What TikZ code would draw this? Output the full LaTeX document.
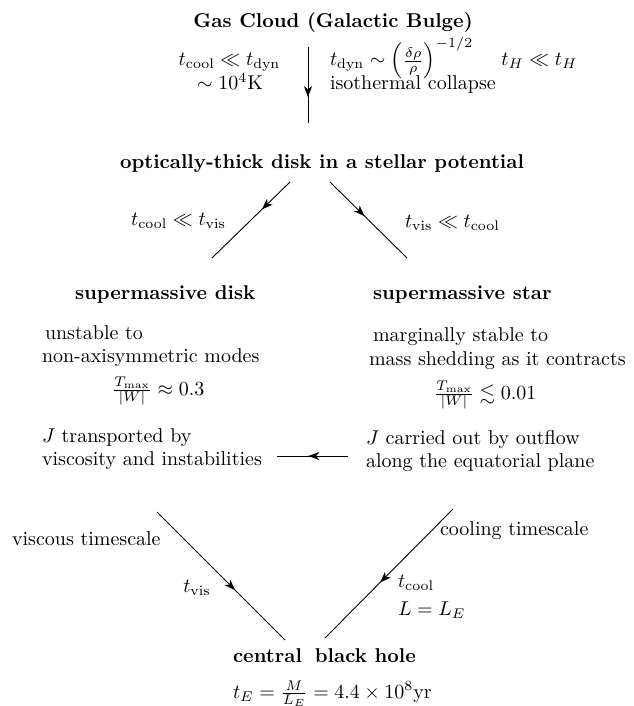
\documentclass[tikz,border=0pt]{standalone}
\usepackage{amsmath,amssymb}
\usetikzlibrary{arrows.meta,decorations.markings}
\begin{document}
\begin{tikzpicture}[x=0.5pt,y=-0.5pt,
  every node/.style={inner sep=0pt, outer sep=0pt},
  bold/.style={font=\bfseries},
  conn/.style={line width=0.45pt},
  midarrow/.style={postaction={decorate},decoration={markings,
     mark=at position #1 with {\arrow{Stealth[length=5.5pt,width=4pt,inset=1.6pt]}}}}]
\useasboundingbox (0,0) rectangle (633,706);

% top
\node[bold, anchor=base] (gas) at (333,28) {Gas Cloud (Galactic Bulge)};
\coordinate (v1) at (308,47);
\coordinate (v2) at (308,123);
\draw[conn, midarrow=0.66] (v1) -- (v2);
\node[anchor=base] (c1) at (229.5,66) {$t_{\rm cool} \ll t_{\rm dyn}$};
\node[anchor=base] (c2) at (230,90) {$\sim 10^4$K};
\node[anchor=base west] (d1) at (330,66) {$t_{\rm dyn} \sim \Bigl(\frac{\delta\rho}{\rho}\Bigr)^{-1/2}\hspace{14pt} t_H \ll t_H$};
\node[anchor=base west] (d2) at (330,90) {isothermal collapse};

% optically thick disk
\node[bold, anchor=base] (opt) at (322,168) {optically-thick disk in a stellar potential};
\coordinate (l1) at (290,182);
\coordinate (l2) at (212,258);
\coordinate (r1) at (330,182);
\coordinate (r2) at (407,258);
\draw[conn, midarrow=0.36] (l1) -- (l2);
\draw[conn, midarrow=0.45] (r1) -- (r2);
\node[anchor=base east] (lv) at (226,225) {$t_{\rm cool} \ll t_{\rm vis}$};
\node[anchor=base west] (rv) at (405,227) {$t_{\rm vis} \ll t_{\rm cool}$};

% two branches
\node[bold, anchor=base west] (sd) at (75,299) {supermassive disk};
\node[bold, anchor=base west] (ss) at (373,299) {supermassive star};

\node[anchor=base west] (u1) at (45,339) {unstable to};
\node[anchor=base west] (u2) at (42,362) {non-axisymmetric modes};
\node[anchor=base west] (u3) at (112,395) {$\frac{T_{\rm max}}{|W|} \approx 0.3$};

\node[anchor=base west] (m1) at (373,341) {marginally stable to};
\node[anchor=base west] (m2) at (369,365) {mass shedding as it contracts};
\node[anchor=base west] (m3) at (434,399) {$\frac{T_{\rm max}}{|W|} \lesssim 0.01$};

\node[anchor=base west] (j1) at (42,442) {$J$ transported by};
\node[anchor=base west] (j2) at (42,465) {viscosity and instabilities};
\node[anchor=base west] (k1) at (366,444) {$J$ carried out by outflow};
\node[anchor=base west] (k2) at (366,467) {along the equatorial plane};

\coordinate (h1) at (348,456);
\coordinate (h2) at (277,456);
\draw[conn, midarrow=0.56] (h1) -- (h2);

% bottom
\node[anchor=base west] (vt) at (12,545) {viscous timescale};
\coordinate (b1) at (157,512);
\coordinate (b2) at (285,640);
\draw[conn, midarrow=0.61] (b1) -- (b2);
\node[anchor=base] (tv) at (197,592) {$t_{\rm vis}$};

\node[anchor=base west] (ct) at (440,535) {cooling timescale};
\coordinate (e1) at (453,509);
\coordinate (e2) at (325,638);
\draw[conn, midarrow=0.57] (e1) -- (e2);
\node[anchor=base west] (tc) at (398,587) {$t_{\rm cool}$};
\node[anchor=base west] (le) at (398,615) {$L = L_E$};

\node[bold, anchor=base west] (bh) at (233,662) {central\hspace{2.7pt} black hole};
\node[anchor=base west] (te) at (233,698) {$t_E = \frac{M}{L_E} = 4.4 \times 10^8$yr};
\end{tikzpicture}
\end{document}
